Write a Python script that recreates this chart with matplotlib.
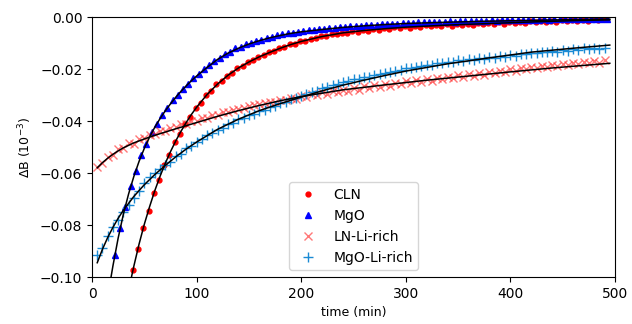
import matplotlib
matplotlib.use("Agg")
import matplotlib.pyplot as plt

# measured points (time in min, delta B in 1e-3 units)
cln_t = [39, 44, 49, 54, 59, 64, 69, 74, 79, 84, 89, 94, 99, 104, 109, 114, 119, 124, 129, 134,
         139, 144, 149, 154, 159, 164, 169, 174, 179, 184, 189, 194, 199, 204, 209, 214, 219, 224,
         229, 234, 239, 244, 249, 254, 259, 264, 269, 274, 279, 284, 289, 294, 299, 304, 309, 314,
         319, 324, 329, 334, 339, 344, 349, 354, 359, 364, 369, 374, 379, 384, 389, 394, 399, 404,
         409, 414, 419, 424, 429, 434, 439, 444, 449, 454, 459, 464, 469, 474, 479, 484, 489]
cln_y = [-.0973, -.0893, -.0810, -.0745, -.0678, -.0627, -.0570, -.0530, -.0482, -.0449, -.0410,
         -.0384, -.0350, -.0329, -.0300, -.0284, -.0259, -.0246, -.0225, -.0216, -.0197, -.0189,
         -.0173, -.0167, -.0153, -.0148, -.0136, -.0132, -.0119, -.0116, -.0105, -.0103, -.0093,
         -.0092, -.0083, -.0082, -.0074, -.0074, -.0066, -.0067, -.0060, -.0061, -.0055, -.0058,
         -.0050, -.0053, -.0047, -.0050, -.0043, -.0047, -.0040, -.0043, -.0036, -.0041, -.0034,
         -.0038, -.0031, -.0036, -.0030, -.0034, -.0028, -.0033, -.0027, -.0031, -.0025, -.0029,
         -.0024, -.0028, -.0022, -.0026, -.0021, -.0025, -.0019, -.0024, -.0018, -.0022, -.0016,
         -.0021, -.0015, -.0019, -.0014, -.0018, -.0012, -.0017, -.0011, -.0015, -.0010, -.0014,
         -.0009, -.0012, -.0008]

mgo_t = [22, 27, 32, 37, 42, 47, 52, 57, 62, 67, 72, 77, 82, 87, 92, 97, 102, 107, 112, 117, 122,
         127, 132, 137, 142, 147, 152, 157, 162, 167, 172, 177, 182, 187, 192, 197, 202, 207, 212,
         217, 222, 227, 232, 237, 242, 247, 252, 257, 262, 267, 272, 277, 282, 287, 292, 297, 302,
         307, 312, 317, 322, 327, 332, 337, 342, 347, 352, 357, 362, 367, 372, 377, 382, 387, 392,
         397, 402, 407, 412, 417, 422, 427, 432, 437, 442, 447, 452, 457, 462, 467, 472, 477, 482,
         487, 492]
mgo_y = [-.0916, -.0810, -.0729, -.0650, -.0592, -.0532, -.0490, -.0444, -.0413, -.0376, -.0351,
         -.0321, -.0301, -.0275, -.0256, -.0234, -.0218, -.0200, -.0186, -.0169, -.0156, -.0142,
         -.0133, -.0121, -.0115, -.0105, -.0099, -.0091, -.0087, -.0080, -.0076, -.0070, -.0067,
         -.0062, -.0060, -.0056, -.0054, -.0051, -.0050, -.0047, -.0046, -.0043, -.0042, -.0039,
         -.0038, -.0036, -.0035, -.0033, -.0032, -.0030, -.0029, -.0028, -.0027, -.0026, -.0025,
         -.0024, -.0023, -.0023, -.0021, -.0021, -.0020, -.0020, -.0018, -.0019, -.0017, -.0018,
         -.0016, -.0017, -.0015, -.0016, -.0014, -.0015, -.0013, -.0014, -.0012, -.0013, -.0012,
         -.0012, -.0011, -.0011, -.0010, -.0011, -.0009, -.0010, -.0009, -.0009, -.0008, -.0009,
         -.0007, -.0008, -.0007, -.0007, -.0006, -.0007, -.0006]

lnli_t = [5, 10, 15, 20, 25, 30, 35, 40, 45, 50, 55, 60, 65, 70, 75, 80, 85, 90, 95, 100, 105, 110,
          115, 120, 125, 130, 135, 140, 145, 150, 155, 160, 165, 170, 175, 180, 185, 190, 195, 200,
          205, 210, 215, 220, 225, 230, 235, 240, 245, 250, 255, 260, 265, 270, 275, 280, 285, 290,
          295, 300, 305, 310, 315, 320, 325, 330, 335, 340, 345, 350, 355, 360, 365, 370, 375, 380,
          385, 390, 395, 400, 405, 410, 415, 420, 425, 430, 435, 440, 445, 450, 455, 460, 465, 470,
          475, 480, 485, 490]
lnli_y = [-.0575, -.0562, -.0538, -.0531, -.0509, -.0505, -.0486, -.0487, -.0468, -.0466, -.0452,
          -.0449, -.0438, -.0437, -.0425, -.0424, -.0413, -.0411, -.0401, -.0400, -.0389, -.0388,
          -.0377, -.0378, -.0366, -.0365, -.0358, -.0352, -.0349, -.0341, -.0340, -.0333, -.0331,
          -.0327, -.0325, -.0318, -.0320, -.0311, -.0314, -.0302, -.0307, -.0296, -.0301, -.0289,
          -.0295, -.0284, -.0290, -.0279, -.0284, -.0272, -.0279, -.0266, -.0274, -.0262, -.0268,
          -.0257, -.0264, -.0253, -.0259, -.0248, -.0255, -.0243, -.0249, -.0238, -.0245, -.0233,
          -.0240, -.0229, -.0236, -.0224, -.0231, -.0219, -.0226, -.0215, -.0222, -.0210, -.0215,
          -.0206, -.0211, -.0201, -.0206, -.0196, -.0201, -.0192, -.0196, -.0187, -.0192, -.0183,
          -.0188, -.0179, -.0184, -.0176, -.0181, -.0172, -.0178, -.0169, -.0175, -.0166]

mgoli_t = lnli_t
mgoli_y = [-.0915, -.0887, -.0842, -.0806, -.0782, -.0751, -.0722, -.0697, -.0668, -.0638, -.0617,
           -.0600, -.0586, -.0569, -.0556, -.0536, -.0525, -.0505, -.0497, -.0479, -.0471, -.0455,
           -.0448, -.0433, -.0425, -.0412, -.0406, -.0394, -.0389, -.0378, -.0372, -.0362, -.0357,
           -.0347, -.0342, -.0332, -.0327, -.0317, -.0312, -.0302, -.0298, -.0287, -.0283, -.0273,
           -.0270, -.0262, -.0258, -.0251, -.0248, -.0240, -.0238, -.0231, -.0229, -.0222, -.0221,
           -.0214, -.0212, -.0206, -.0204, -.0198, -.0197, -.0191, -.0190, -.0184, -.0184, -.0178,
           -.0178, -.0172, -.0173, -.0167, -.0168, -.0163, -.0164, -.0158, -.0160, -.0154, -.0156,
           -.0150, -.0153, -.0146, -.0149, -.0141, -.0144, -.0137, -.0140, -.0133, -.0136, -.0130,
           -.0133, -.0127, -.0130, -.0124, -.0127, -.0121, -.0124, -.0119, -.0122, -.0118]

# fitted curves
cln_fit_t = [35, 40, 45, 50, 55, 60, 65, 70, 75, 80, 85, 90, 95, 100, 110, 120, 130, 140, 150, 160,
             170, 180, 190, 200, 220, 240, 260, 280, 300, 340, 380, 420, 460, 495]
cln_fit_y = [-.1050, -.0958, -.0873, -.0797, -.0730, -.0668, -.0613, -.0563, -.0518, -.0477, -.0440,
             -.0406, -.0375, -.0347, -.0298, -.0258, -.0224, -.0196, -.0173, -.0153, -.0136, -.0120,
             -.0106, -.0094, -.0075, -.0061, -.0052, -.0045, -.0039, -.0031, -.0025, -.0019, -.0014,
             -.0011]

mgo_fit_t = [15, 20, 25, 30, 35, 40, 45, 50, 55, 60, 65, 70, 75, 80, 85, 90, 95, 100, 110, 120, 130,
             140, 150, 160, 170, 180, 190, 200, 220, 240, 260, 280, 300, 340, 380, 420, 460, 495]
mgo_fit_y = [-.1075, -.0957, -.0850, -.0758, -.0680, -.0613, -.0555, -.0505, -.0462, -.0424, -.0391,
             -.0361, -.0334, -.0309, -.0286, -.0265, -.0245, -.0227, -.0194, -.0163, -.0139, -.0120,
             -.0104, -.0091, -.0080, -.0071, -.0063, -.0057, -.0048, -.0040, -.0034, -.0029, -.0025,
             -.0020, -.0016, -.0013, -.0010, -.0008]

lnli_fit_t = [5, 10, 15, 20, 25, 30, 40, 50, 60, 80, 100, 120, 140, 160, 180, 200, 240, 280, 320,
              360, 400, 440, 495]
lnli_fit_y = [-.0580, -.0560, -.0543, -.0528, -.0515, -.0503, -.0484, -.0469, -.0455, -.0430, -.0406,
              -.0382, -.0360, -.0340, -.0322, -.0306, -.0280, -.0261, -.0243, -.0227, -.0211, -.0196,
              -.0178]

mgoli_fit_t = [5, 10, 15, 20, 25, 30, 40, 50, 60, 70, 80, 90, 100, 120, 140, 160, 180, 200, 220, 240,
               260, 280, 300, 340, 380, 420, 460, 495]
mgoli_fit_y = [-.0945, -.0893, -.0848, -.0809, -.0774, -.0743, -.0690, -.0645, -.0606, -.0571, -.0538,
               -.0508, -.0481, -.0432, -.0393, -.0360, -.0333, -.0308, -.0284, -.0262, -.0243, -.0225,
               -.0208, -.0180, -.0157, -.0135, -.0120, -.0108]

fig = plt.figure(figsize=(6.32, 3.24), dpi=100)
ax = fig.add_axes([0.1456, 0.145, 0.8275, 0.8025])

ax.plot(cln_t, cln_y, 'o', color='red', ms=3.5, label='CLN')
ax.plot(mgo_t, mgo_y, '^', color='blue', ms=4, label='MgO')
ax.plot(lnli_t, lnli_y, 'x', color='#ff3030', alpha=0.65, ms=5.5, mew=1, label='LN-Li-rich')
ax.plot(mgoli_t, mgoli_y, '+', color='#1a8ad4', ms=6.5, mew=1, label='MgO-Li-rich')

for ft, fy in [(cln_fit_t, cln_fit_y), (mgo_fit_t, mgo_fit_y),
               (lnli_fit_t, lnli_fit_y), (mgoli_fit_t, mgoli_fit_y)]:
    ax.plot(ft, fy, '-', color='black', lw=1.1)

ax.set_xlim(0, 500)
ax.set_ylim(-0.10, 0.0)
ax.set_xticks([0, 100, 200, 300, 400, 500])
ax.set_yticks([-0.10, -0.08, -0.06, -0.04, -0.02, 0.00])
ax.set_yticklabels(['\u22120.10', '\u22120.08', '\u22120.06', '\u22120.04', '\u22120.02', '0.00'])
ax.tick_params(labelsize=10)
ax.set_xlabel('time (min)', fontsize=9)
ax.set_ylabel('\u0394B (10$^{-3}$)', fontsize=9)
ax.legend(loc='lower center', fontsize=10)

fig.savefig('out.png', dpi=100)
